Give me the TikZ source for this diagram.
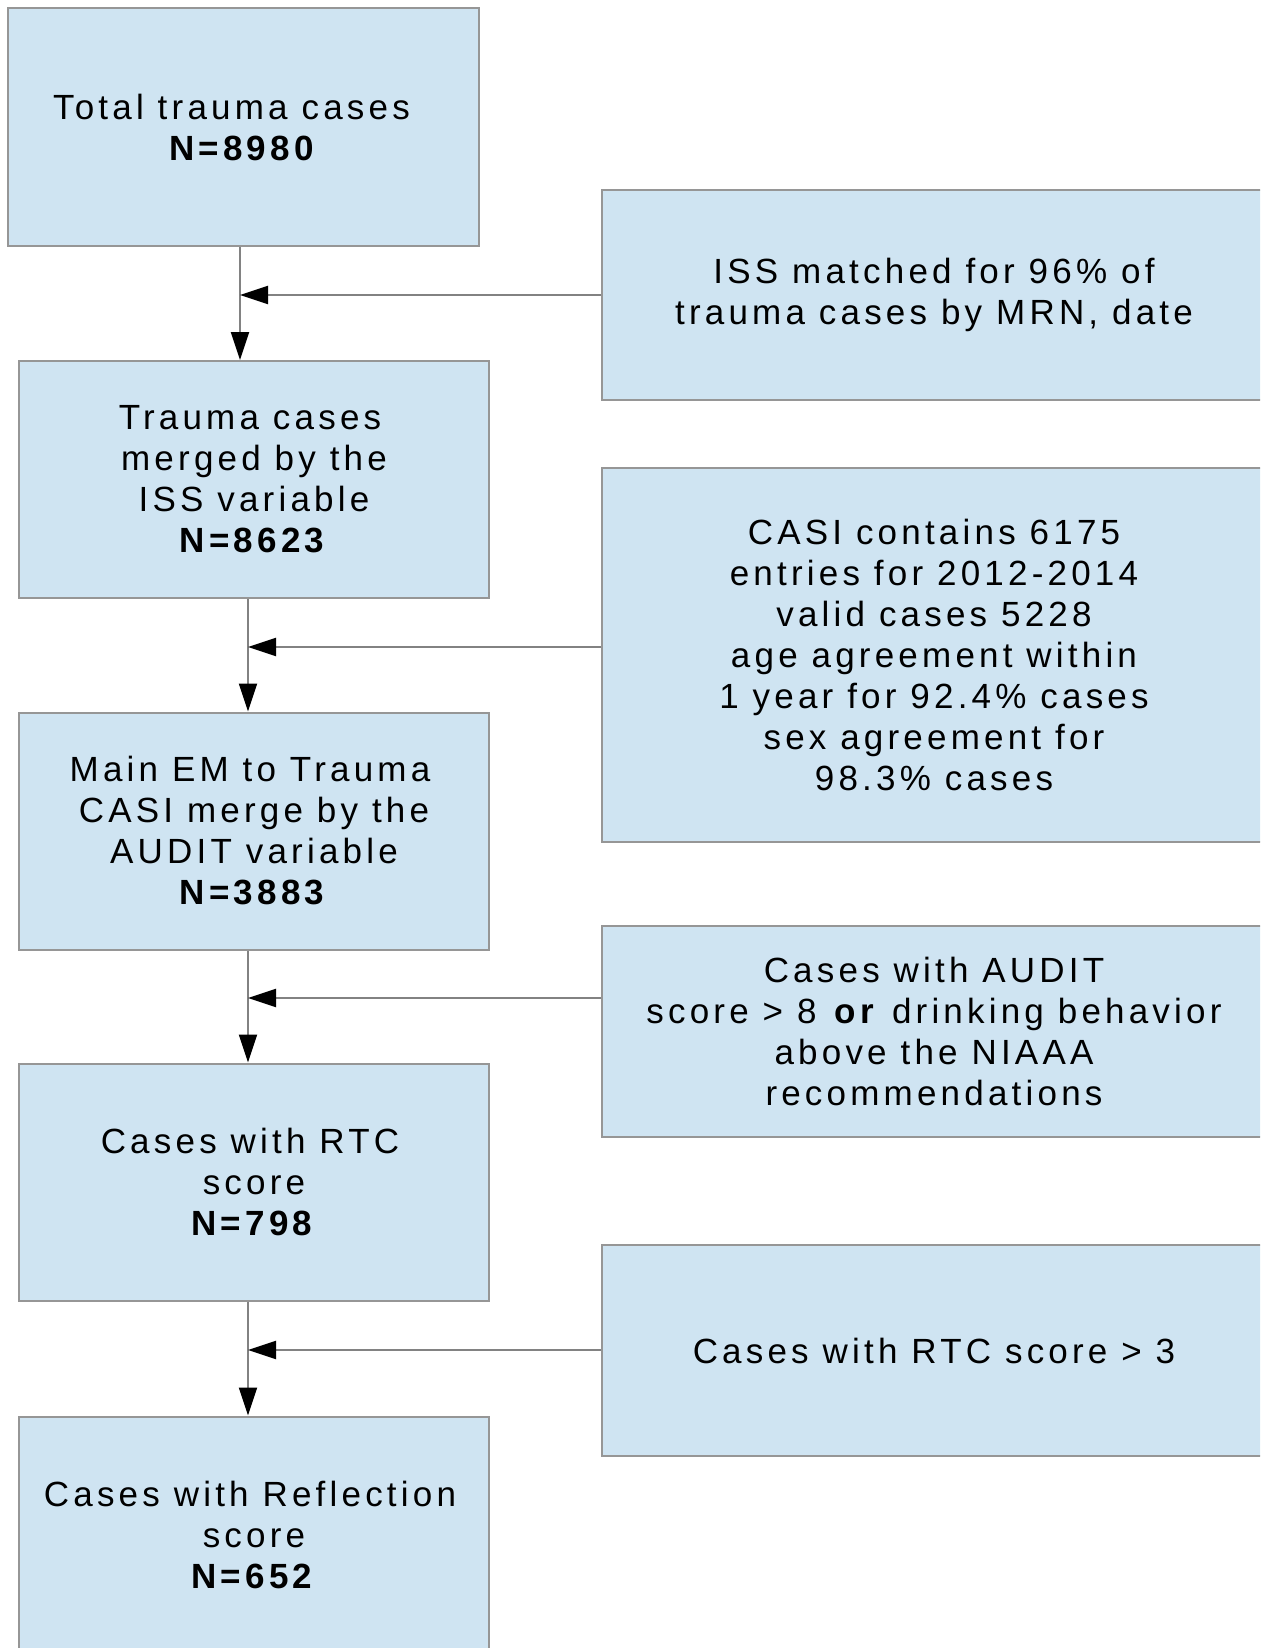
\documentclass[tikz,border=0pt]{standalone}
\usepackage{fontspec}
\setmainfont{Liberation Sans}[LetterSpace=12]
\usetikzlibrary{arrows.meta,calc}
\definecolor{boxblue}{RGB}{207,228,242}
\definecolor{bordergrey}{RGB}{150,150,150}
\definecolor{linegrey}{RGB}{130,130,130}
\begin{document}
\begin{tikzpicture}[x=0.5pt,y=-0.5pt,
  box/.style={draw=bordergrey, line width=1pt, fill=boxblue, inner sep=0pt,
    align=center, font=\fontsize{17.5pt}{20.5pt}\selectfont},
  leftbox/.style={box, minimum width=235pt, minimum height=118.5pt},
  rightbox/.style={box, minimum width=332pt},
  conn/.style={draw=linegrey, line width=1pt, -{Triangle[length=14pt,width=9pt,black]}}]
\clip (0,0) rectangle (1260,1648);
\fill[white] (0,0) rectangle (1260,1648);
\node[leftbox, minimum width=235.5pt, minimum height=119pt] (b1) at (243.5,127) {Total trauma cases\hspace*{12pt}\\\textbf{N=8980}};
\node[leftbox] (b2) at (254,479.5) {Trauma cases\hspace*{4pt}\\merged by the\hspace*{4pt}\\ISS variable\hspace*{4pt}\\\textbf{N=8623}};
\node[leftbox] (b3) at (254,831) {Main EM to Trauma\hspace*{4pt}\\CASI merge by the\hspace*{4pt}\\AUDIT variable\hspace*{4pt}\\\textbf{N=3883}};
\node[leftbox] (b4) at (254,1182) {Cases with RTC\hspace*{4pt}\\score\hspace*{4pt}\\\textbf{N=798}};
\node[leftbox] (b5) at (254,1535) {Cases with Reflection\hspace*{4pt}\\score\hspace*{4pt}\\\textbf{N=652}};
\node[rightbox, minimum height=105pt] (r1) at (934,295) {ISS matched for 96\% of\\trauma cases by MRN, date};
\node[rightbox, minimum height=187pt] (r2) at (934,655) {CASI contains 6175\\entries for 2012-2014\\valid cases 5228\\age agreement within\\1 year for 92.4\% cases\\sex agreement for\\98.3\% cases};
\node[rightbox, minimum height=105.5pt] (r3) at (934,1031.5) {Cases with AUDIT\\score > 8 \textbf{or} drinking behavior\\above the NIAAA\\recommendations};
\node[rightbox, minimum height=105.5pt] (r4) at (934,1350.5) {Cases with RTC score > 3};
\coordinate (j1) at (240,295);
\coordinate (j2) at (248,647);
\coordinate (j3) at (248,998);
\coordinate (j4) at (248,1350);
\draw[conn] (b1.south -| j1) -- (b2.north -| j1);
\draw[conn] (b2.south -| j2) -- (b3.north -| j2);
\draw[conn] (b3.south -| j3) -- (b4.north -| j3);
\draw[conn] (b4.south -| j4) -- (b5.north -| j4);
\draw[conn] (r1.west |- j1) -- (j1);
\draw[conn] (r2.west |- j2) -- (j2);
\draw[conn] (r3.west |- j3) -- (j3);
\draw[conn] (r4.west |- j4) -- (j4);
\end{tikzpicture}
\end{document}
